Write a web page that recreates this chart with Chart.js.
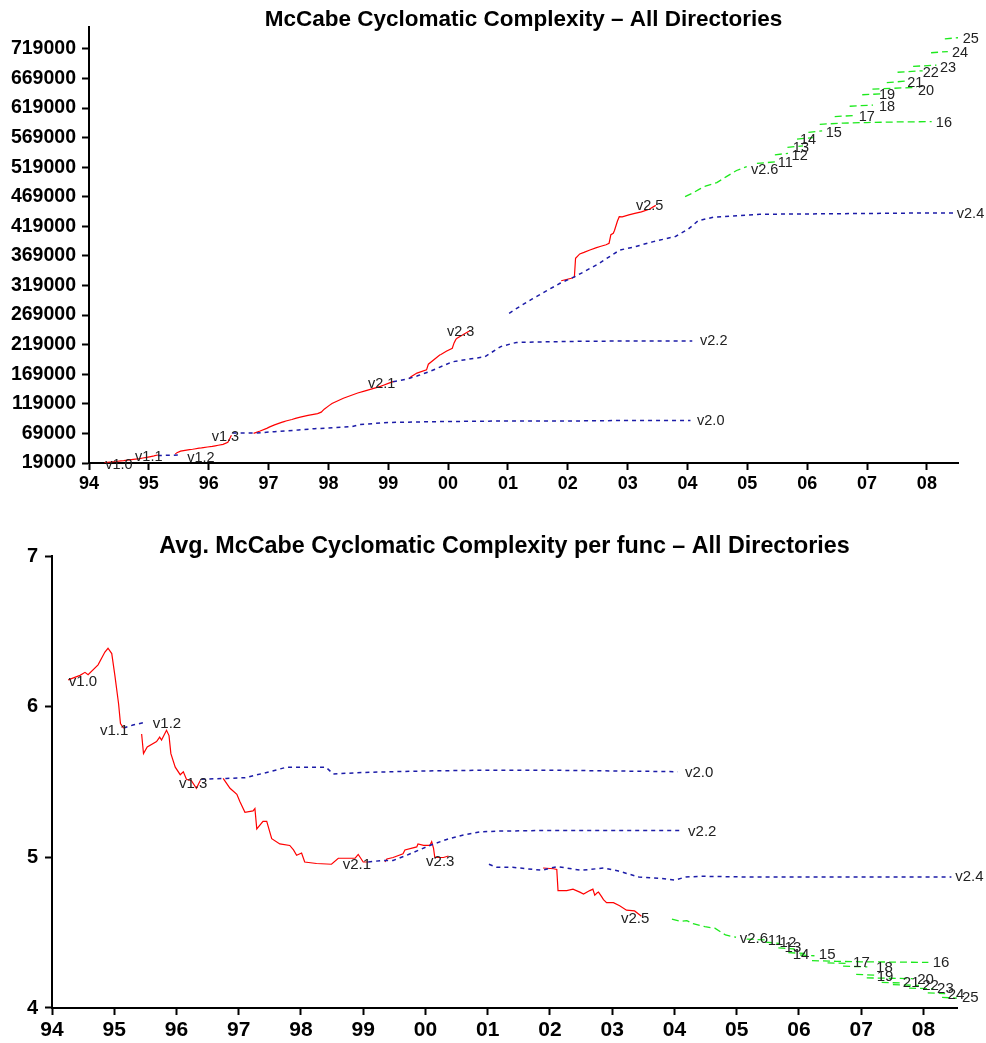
<!DOCTYPE html>
<html>
<head>
<meta charset="utf-8">
<script src="https://cdn.jsdelivr.net/npm/chart.js@4.4.1/dist/chart.umd.min.js"></script>
<style>
  body { margin: 0; background: #fff; }
  canvas { position: absolute; left: 0; }
  #totalChart { top: 0; }
  #avgChart { top: 500px; }
</style>
</head>
<body>
<canvas id="totalChart" width="986" height="500"></canvas>
<canvas id="avgChart" width="986" height="543"></canvas>
<script>
// x axis: release years
const yearTicks = [1994, 1995, 1996, 1997, 1998, 1999, 2000, 2001, 2002, 2003, 2004, 2005, 2006, 2007, 2008];
const yearTickLabels = ['94', '95', '96', '97', '98', '99', '00', '01', '02', '03', '04', '05', '06', '07', '08'];
const totalTicks = [19000, 69000, 119000, 169000, 219000, 269000, 319000, 369000, 419000, 469000, 519000, 569000, 619000, 669000, 719000];
const avgTicks = [4, 5, 6, 7];

// development series (red)
const dev11Years = [1994.26, 1994.45, 1994.53, 1994.58, 1994.74, 1994.85, 1994.90, 1994.96, 1995.01, 1995.07, 1995.10, 1995.15];
const dev11Total = [19800, 21500, 22500, 23000, 25000, 26500, 27500, 28500, 29500, 30500, 31500, 32500];
const dev11Avg = [6.18, 6.21, 6.23, 6.215, 6.28, 6.365, 6.39, 6.355, 6.21, 6.02, 5.89, 5.86];

const dev13Years = [1995.44, 1995.47, 1995.53, 1995.68, 1995.73, 1995.76, 1995.84, 1995.88, 1995.91, 1995.98, 1996.06, 1996.11, 1996.16, 1996.24, 1996.32, 1996.38];
const dev13Total = [34000, 36500, 39000, 41500, 42200, 42700, 44000, 44500, 45000, 46000, 47000, 48000, 49000, 50500, 54000, 66000];
const dev13Avg = [5.82, 5.69, 5.735, 5.77, 5.80, 5.78, 5.845, 5.81, 5.69, 5.60, 5.55, 5.57, 5.52, 5.51, 5.46, 5.51];

const dev21Years = [1996.75, 1996.86, 1996.97, 1997.02, 1997.10, 1997.23, 1997.26, 1997.29, 1997.39, 1997.45, 1997.53, 1997.66, 1997.82, 1997.88, 1997.93, 1998.01, 1998.06, 1998.25, 1998.49, 1998.60, 1998.87, 1998.92, 1999.00, 1999.08];
const dev21Total = [69000, 73000, 77600, 80000, 83500, 88000, 89000, 90000, 92500, 94500, 96500, 99500, 102500, 105000, 110000, 116000, 119500, 128400, 137300, 140500, 148500, 150500, 153500, 156500];
const dev21Avg = [5.525, 5.46, 5.42, 5.37, 5.30, 5.31, 5.325, 5.19, 5.24, 5.24, 5.125, 5.09, 5.08, 5.05, 5.015, 5.03, 4.97, 4.96, 4.955, 4.995, 4.995, 5.02, 4.97, 4.97];

const dev23Years = [1999.35, 1999.38, 1999.48, 1999.64, 1999.67, 1999.86, 1999.88, 1999.97, 2000.07, 2000.10, 2000.13, 2000.15, 2000.29, 2000.37];
const dev23Total = [161500, 165000, 171000, 176500, 186000, 201600, 202500, 208000, 213000, 222000, 228000, 230000, 238500, 243000];
const dev23Avg = [4.97, 4.99, 5.0, 5.025, 5.05, 5.07, 5.09, 5.08, 5.08, 5.105, 5.06, 5.0, 5.0, 5.01];

const dev25Years = [2001.89, 2002.06, 2002.11, 2002.13, 2002.20, 2002.27, 2002.37, 2002.48, 2002.54, 2002.64, 2002.69, 2002.72, 2002.76, 2002.78, 2002.83, 2002.86, 2002.91, 2003.02, 2003.12, 2003.23, 2003.36, 2003.47];
const dev25Total = [327000, 331300, 333500, 365000, 372400, 375000, 379000, 383000, 385000, 388000, 390500, 405000, 407400, 412000, 428000, 435400, 435000, 438500, 441000, 443500, 448000, 454500];
const dev25Avg = [4.93, 4.925, 4.92, 4.78, 4.78, 4.78, 4.79, 4.77, 4.757, 4.78, 4.79, 4.75, 4.765, 4.77, 4.74, 4.72, 4.70, 4.70, 4.68, 4.65, 4.645, 4.61];

// stable branches (blue)
const rel12Years = [1995.15, 1995.30, 1995.52];
const rel12Total = [31500, 32000, 32500];
const rel12Avg = [5.86, 5.88, 5.90];

const rel20Years = [1996.40, 1996.80, 1997.10, 1997.50, 1997.77, 1998.00, 1998.40, 1998.52, 1999.00, 2000.00, 2001.00, 2002.00, 2003.00, 2004.05];
const rel20Total = [69700, 69700, 72000, 74800, 77000, 78200, 80500, 84000, 87500, 89200, 90000, 90000, 90900, 90900];
const rel20Avg = [5.52, 5.525, 5.53, 5.57, 5.60, 5.60, 5.60, 5.555, 5.565, 5.575, 5.58, 5.58, 5.575, 5.57];

const rel22Years = [1999.08, 1999.30, 1999.48, 1999.70, 2000.07, 2000.34, 2000.61, 2000.88, 2001.14, 2002.00, 2003.00, 2004.08];
const rel22Total = [156500, 160500, 166000, 174000, 190000, 194500, 198400, 215800, 222800, 224500, 225300, 225300];
const rel22Avg = [4.97, 4.98, 4.98, 5.015, 5.08, 5.12, 5.15, 5.17, 5.175, 5.18, 5.18, 5.18];

const rel24Years = [2001.02, 2001.14, 2001.40, 2001.87, 2002.12, 2002.50, 2002.87, 2003.10, 2003.43, 2003.80, 2004.01, 2004.18, 2004.43, 2005.21, 2006.00, 2007.00, 2008.00, 2008.45];
const rel24Total = [272100, 280000, 296000, 322800, 334000, 355000, 379000, 384000, 393200, 402000, 414100, 428700, 434400, 439500, 440000, 440800, 441700, 441700];
const rel24Avg = [4.955, 4.935, 4.935, 4.915, 4.94, 4.915, 4.93, 4.91, 4.87, 4.86, 4.85, 4.87, 4.875, 4.87, 4.87, 4.87, 4.87, 4.87];

// 2.6 mainline and its stable releases (green)
const rel26Years = [2003.96, 2004.10, 2004.20, 2004.30, 2004.49, 2004.65, 2004.82, 2004.99];
const rel26Total = [469300, 476100, 482000, 487000, 492900, 503100, 513400, 520100];
const rel26Avg = [4.59, 4.575, 4.58, 4.56, 4.54, 4.53, 4.485, 4.47];

const stableYears = [
  [2005.16, 2005.47], [2005.46, 2005.68], [2005.67, 2005.93], [2005.83, 2006.10], [2006.02, 2006.25],
  [2006.21, 2006.60, 2007.00, 2007.50, 2008.08], [2006.46, 2006.80], [2006.71, 2007.10], [2006.92, 2007.25],
  [2007.09, 2007.83], [2007.33, 2007.64], [2007.51, 2007.93], [2007.77, 2008.16], [2008.07, 2008.35], [2008.30, 2008.54]
];
const stableTotal = [
  [525500, 528000], [540000, 542500], [552500, 555000], [566500, 569000], [578000, 580500],
  [591500, 593500, 594500, 595500, 596000], [604500, 606500], [622000, 624000], [641500, 643000],
  [651000, 654000], [662000, 664500], [679500, 682000], [689500, 691500], [712500, 714500], [736000, 738000]
];
const stableAvg = [
  [4.458, 4.452], [4.437, 4.430], [4.400, 4.392], [4.368, 4.362], [4.352, 4.347],
  [4.315, 4.31, 4.307, 4.305, 4.303], [4.300, 4.296], [4.278, 4.273], [4.223, 4.218],
  [4.200, 4.195], [4.170, 4.166], [4.155, 4.150], [4.132, 4.128], [4.100, 4.096], [4.070, 4.066]
];

// version tags written next to the lines
const tagNames = ['v1.0', 'v1.1', 'v1.2', 'v1.3', 'v2.0', 'v2.1', 'v2.2', 'v2.3', 'v2.4', 'v2.5', 'v2.6',
  '11', '12', '13', '14', '15', '16', '17', '18', '19', '20', '21', '22', '23', '24', '25'];
const tagTotalYears = [1994.27, 1994.77, 1995.64, 1996.05, 2004.16, 1998.66, 2004.21, 1999.98, 2008.50, 2003.14, 2005.06,
  2005.51, 2005.74, 2005.76, 2005.88, 2006.31, 2008.15, 2006.86, 2007.20, 2007.20, 2007.85, 2007.67, 2007.93, 2008.22, 2008.42, 2008.60];
const tagTotal = [15600, 29100, 27500, 63000, 90000, 152600, 225300, 240500, 440000, 453500, 514400,
  526200, 538100, 551600, 565100, 577000, 593900, 604000, 621000, 641200, 648000, 661500, 678400, 687000, 712200, 736000];
const tagAvgYears = [1994.27, 1994.77, 1995.62, 1996.04, 2004.17, 1998.67, 2004.22, 2000.01, 2008.51, 2003.14, 2005.05,
  2005.50, 2005.69, 2005.77, 2005.90, 2006.32, 2008.15, 2006.87, 2007.24, 2007.25, 2007.90, 2007.67, 2007.98, 2008.22, 2008.39, 2008.62];
const tagAvg = [6.164, 5.84, 5.89, 5.49, 5.56, 4.95, 5.17, 4.97, 4.87, 4.59, 4.46,
  4.445, 4.43, 4.40, 4.35, 4.35, 4.30, 4.30, 4.265, 4.21, 4.19, 4.165, 4.145, 4.125, 4.09, 4.065];

Chart.defaults.font.family = '"Liberation Sans", Arial, sans-serif';
Chart.defaults.color = '#000';

const devStyle = { color: '#ff0000', width: 1.2, dash: [] };
const relStyle = { color: '#1c1ca8', width: 1.5, dash: [4, 4] };
const greenStyle = { color: '#1de91d', width: 1.3, dash: [7, 4] };

const series = [
  [dev11Years, dev11Total, dev11Avg, devStyle],
  [rel12Years, rel12Total, rel12Avg, relStyle],
  [dev13Years, dev13Total, dev13Avg, devStyle],
  [rel20Years, rel20Total, rel20Avg, relStyle],
  [dev21Years, dev21Total, dev21Avg, devStyle],
  [rel22Years, rel22Total, rel22Avg, relStyle],
  [dev23Years, dev23Total, dev23Avg, devStyle],
  [rel24Years, rel24Total, rel24Avg, relStyle],
  [dev25Years, dev25Total, dev25Avg, devStyle],
  [rel26Years, rel26Total, rel26Avg, greenStyle]
];
stableYears.forEach((yrs, i) => series.push([yrs, stableTotal[i], stableAvg[i], greenStyle]));

function lineSet(years, values, style) {
  return {
    data: years.map((yr, i) => ({ x: yr, y: values[i] })),
    borderColor: style.color,
    borderWidth: style.width,
    borderDash: style.dash,
    pointRadius: 0,
    tension: 0,
    fill: false
  };
}

// draws the version tags at their data positions
const tagPlugin = {
  id: 'versionTags',
  afterDatasetsDraw(chart, args, opts) {
    const { ctx, scales: { x, y } } = chart;
    ctx.save();
    ctx.font = opts.size + 'px "Liberation Sans", Arial, sans-serif';
    ctx.fillStyle = '#222';
    ctx.textAlign = 'left';
    ctx.textBaseline = 'middle';
    tagNames.forEach((name, i) => {
      ctx.fillText(name, x.getPixelForValue(opts.years[i]), y.getPixelForValue(opts.values[i]));
    });
    ctx.restore();
  }
};

function axisLook(tickSize, pad) {
  return {
    grid: { display: true, drawOnChartArea: false, drawTicks: true, tickLength: 7, tickWidth: 2, tickColor: '#000' },
    border: { display: true, color: '#000', width: 2 },
    ticks: { color: '#000', font: { size: tickSize, weight: 'bold' }, padding: pad, autoSkip: false, maxRotation: 0 }
  };
}

function buildChart(id, cfg) {
  const xAxis = axisLook(cfg.xFont, 3);
  xAxis.type = 'linear';
  xAxis.min = 1994;
  xAxis.max = cfg.xMax;
  xAxis.afterBuildTicks = (scale) => { scale.ticks = yearTicks.map(v => ({ value: v })); };
  xAxis.afterFit = (scale) => { scale.height = cfg.xHeight; };
  xAxis.ticks.callback = (value, i) => yearTickLabels[i];

  const yAxis = axisLook(cfg.yFont, cfg.yPad);
  yAxis.min = cfg.yMin;
  yAxis.max = cfg.yMax;
  yAxis.afterBuildTicks = (scale) => { scale.ticks = cfg.yTicks.map(v => ({ value: v })); };
  yAxis.afterFit = (scale) => { scale.width = cfg.yWidth; };
  yAxis.ticks.callback = (value) => String(value);

  return new Chart(document.getElementById(id), {
    type: 'line',
    data: { datasets: series.map(s => lineSet(s[0], s[cfg.column], s[3])) },
    options: {
      responsive: false,
      animation: false,
      devicePixelRatio: 1,
      layout: { padding: { left: 0, right: cfg.right, top: 0, bottom: 0 } },
      scales: { x: xAxis, y: yAxis },
      plugins: {
        legend: { display: false },
        tooltip: { enabled: false },
        title: {
          display: true,
          fullSize: false,
          text: cfg.title,
          color: '#000',
          font: { size: cfg.titleSize, weight: 'bold', lineHeight: 1.2 },
          padding: cfg.titlePad
        },
        versionTags: { years: cfg.tagYears, values: cfg.tagValues, size: cfg.tagSize }
      }
    },
    plugins: [tagPlugin]
  });
}

buildChart('totalChart', {
  column: 1,
  title: 'McCabe Cyclomatic Complexity \u2013 All Directories',
  titleSize: 22.5,
  titlePad: { top: 6.5, bottom: -6.5 },
  xMax: 2008.52, xFont: 18, xHeight: 37, right: 28,
  yMin: 19000, yMax: 756000, yTicks: totalTicks, yFont: 19.5, yPad: 6, yWidth: 89,
  tagYears: tagTotalYears, tagValues: tagTotal, tagSize: 14.5
});

buildChart('avgChart', {
  column: 2,
  title: 'Avg. McCabe Cyclomatic Complexity per func \u2013 All Directories',
  titleSize: 23.3,
  titlePad: { top: 33, bottom: -4.5 },
  xMax: 2008.54, xFont: 21, xHeight: 35, right: 29,
  yMin: 4, yMax: 7, yTicks: avgTicks, yFont: 20, yPad: 7, yWidth: 52,
  tagYears: tagAvgYears, tagValues: tagAvg, tagSize: 15
});
</script>
</body>
</html>
